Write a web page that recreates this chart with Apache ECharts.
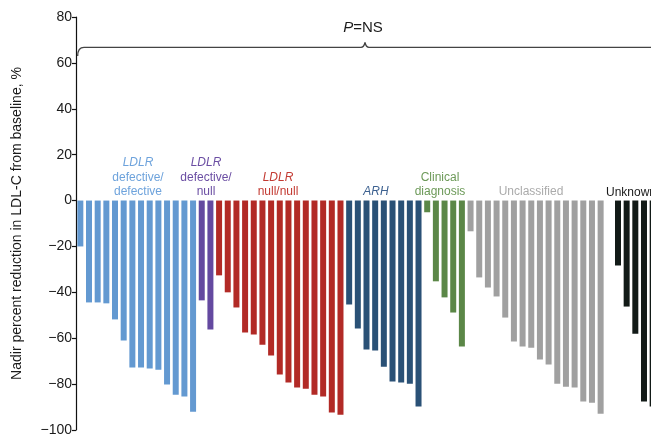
<!DOCTYPE html>
<html>
<head>
<meta charset="utf-8">
<script src="https://cdn.jsdelivr.net/npm/echarts@6/dist/echarts.min.js"></script>
<style>
html,body{margin:0;padding:0;background:#fff;overflow:hidden;}
#chart{width:660px;height:437px;}
</style>
</head>
<body>
<div id="chart"></div>
<script>
// ---- data ----
var groupNames = ['LDLR defective/defective', 'LDLR defective/null', 'LDLR null/null', 'ARH', 'Clinical diagnosis', 'Unclassified', '', 'Unknown'];
var defDef = [-20, -44.4, -44.4, -44.8, -51.8, -61, -72.8, -72.8, -73.2, -73.7, -80.2, -84.6, -85.4, -92];
var defNull = [-43.5, -56.2];
var nullNull = [-32.6, -40, -46.6, -57.5, -58.4, -62.8, -67.5, -75.8, -79.3, -81.5, -82, -84.6, -85.4, -92.4, -93.3];
var arh = [-45.3, -55.8, -64.9, -65.4, -72.4, -78.9, -79.3, -79.8, -89.8];
var clinical = [-5.1, -35.2, -42.2, -48.8, -63.6];
var unclassified = [-13.4, -33.5, -37.9, -41.8, -51, -61.4, -63.6, -64.1, -69.3, -71.5, -79.8, -81.1, -81.5, -87.6, -88.1, -92.9];
var spacer = [null];
var unknown = [-28.3, -46.2, -58, -87.6, -89.8];
var yTicks = [-100, -80, -60, -40, -20, 0, 20, 40, 60, 80];

var groups = [defDef, defNull, nullNull, arh, clinical, unclassified, spacer, unknown];
var barColors = ['#6399d1', '#6449a0', '#b22a26', '#2a5176', '#5b8747', '#a0a0a0', '#ffffff', '#121a17'];

var categories = [];
var barData = [];
groups.forEach(function (g, gi) {
  g.forEach(function (v, i) {
    categories.push(gi + '-' + i);
    barData.push({ value: v, itemStyle: { color: barColors[gi] } });
  });
});

var FONT = '"Liberation Sans", Arial, Helvetica, sans-serif';
function lbl(text, x, y, color, italic, align) {
  return {
    type: 'text', x: x, y: y, silent: true,
    style: {
      text: text, fill: color, font: (italic ? 'italic ' : '') + '12px ' + FONT,
      textAlign: align || 'center', textVerticalAlign: 'middle'
    }
  };
}
var braceStyle = { stroke: '#444', lineWidth: 1.3, fill: null };

var chart = echarts.init(document.getElementById('chart'), null, { renderer: 'canvas' });
chart.setOption({
  animation: false,
  backgroundColor: '#ffffff',
  grid: { left: 76, right: 3, top: 17, bottom: 6, containLabel: false },
  xAxis: {
    type: 'category', data: categories, show: false, boundaryGap: true
  },
  yAxis: {
    type: 'value', min: -100, max: 80, interval: 20,
    name: 'Nadir percent reduction in LDL-C from baseline, %',
    nameLocation: 'middle', nameGap: 52,
    nameTextStyle: { fontSize: 14, color: '#1a1a1a', fontFamily: FONT },
    axisLine: { show: true, lineStyle: { color: '#111', width: 1.2 } },
    axisTick: { show: true, inside: false, length: 4, lineStyle: { color: '#111', width: 1.2 } },
    axisLabel: {
      fontSize: 14, color: '#1a1a1a', fontFamily: FONT, margin: 4,
      formatter: function (v) { return String(v).replace('-', '\u2212'); }
    },
    splitLine: { show: false }
  },
  series: [{
    type: 'bar', data: barData, barWidth: 6
  }],
  graphic: [
    { type: 'bezierCurve', silent: true, shape: { x1: 77.7, y1: 56, cpx1: 77.7, cpy1: 47.3, x2: 84, y2: 47.3 }, style: braceStyle },
    { type: 'line', silent: true, shape: { x1: 84, y1: 47.3, x2: 361, y2: 47.3 }, style: braceStyle },
    { type: 'bezierCurve', silent: true, shape: { x1: 361, y1: 47.3, cpx1: 364, cpy1: 47.3, x2: 365, y2: 42.5 }, style: braceStyle },
    { type: 'bezierCurve', silent: true, shape: { x1: 365, y1: 42.5, cpx1: 366, cpy1: 47.3, x2: 369, y2: 47.3 }, style: braceStyle },
    { type: 'line', silent: true, shape: { x1: 369, y1: 47.3, x2: 660, y2: 47.3 }, style: braceStyle },
    { type: 'text', x: 363, y: 28, silent: true,
      style: { text: '{i|P}=NS', textAlign: 'center', textVerticalAlign: 'middle',
        rich: { i: { fontStyle: 'italic', fontSize: 15, fontFamily: FONT, fill: '#1a1a1a' } },
        font: '15px ' + FONT, fill: '#1a1a1a' } },
    lbl('LDLR', 138, 163, '#6ea3dc', true),
    lbl('defective/', 138, 178, '#6ea3dc'),
    lbl('defective', 138, 192, '#6ea3dc'),
    lbl('LDLR', 206, 163, '#6b4ea3', true),
    lbl('defective/', 206, 178, '#6b4ea3'),
    lbl('null', 206, 192, '#6b4ea3'),
    lbl('LDLR', 278, 178, '#c33a32', true),
    lbl('null/null', 278, 192, '#c33a32'),
    lbl('ARH', 376, 192, '#3d6190', true),
    lbl('Clinical', 440, 178, '#6d9a59'),
    lbl('diagnosis', 440, 192, '#6d9a59'),
    lbl('Unclassified', 531, 192, '#ababab'),
    lbl('Unknown', 606, 193, '#1a1a1a', false, 'left')
  ]
});
</script>
</body>
</html>
